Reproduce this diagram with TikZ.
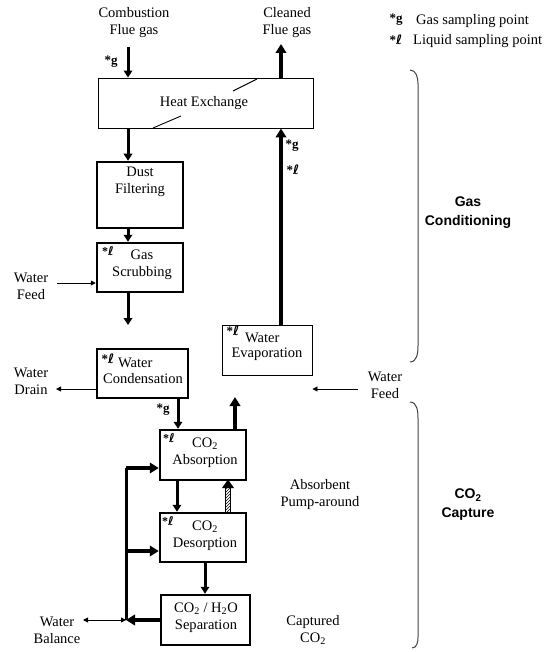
\documentclass[tikz,border=0pt]{standalone}
\usepackage{fontspec}
\setmainfont{Liberation Serif}
\newfontfamily\sansfam{Liberation Sans}
\newfontfamily\ellfam{DejaVu Sans}
\newcommand{\ellmark}{*{\ellfam\bfseries ℓ}}
\usetikzlibrary{arrows.meta,patterns}
\begin{document}
\begin{tikzpicture}[x=1pt,y=-1pt,
  txt/.style={align=center,inner sep=0pt,font=\fontsize{14.5}{17}\selectfont},
  smark/.style={inner sep=0pt,font=\fontsize{12}{14}\selectfont\bfseries},
  bmark/.style={inner sep=0pt,font=\fontsize{13}{15}\selectfont\bfseries},
  thinbox/.style={draw,line width=0.9pt,inner sep=0pt},
  thickbox/.style={draw,line width=2.5pt,inner sep=0pt},
  thinarr/.style={line width=0.9pt,-{Triangle[length=5pt,width=5pt]}},
  midarr/.style={line width=3pt,-{Triangle[length=7pt,width=8.5pt]}},
  bigarr/.style={line width=4.4pt,-{Triangle[length=9pt,width=10.5pt]}},
  brace/.style={line width=1pt,draw=black!75},
  grp/.style={align=center,inner sep=0pt,font=\fontsize{14}{19}\selectfont\sansfam\bfseries}]
\useasboundingbox (0,0) rectangle (552,652);

% ---- boxes ----
\node[thinbox,minimum width=215pt,minimum height=50pt] (he) at (205.5,103) {};
\node[thickbox,minimum width=86pt,minimum height=66pt] (df) at (140,195) {};
\node[thickbox,minimum width=86pt,minimum height=49pt] (gs) at (140,267.5) {};
\node[thickbox,minimum width=91pt,minimum height=49pt] (wc) at (142.5,373.5) {};
\node[thinbox,minimum width=90pt,minimum height=50pt] (we) at (267,350) {};
\node[thickbox,minimum width=86pt,minimum height=50pt] (ab) at (203,455) {};
\node[thickbox,minimum width=86pt,minimum height=49pt] (de) at (203,537.5) {};
\node[thickbox,minimum width=89pt,minimum height=50pt] (se) at (205.5,620) {};

% ---- box texts ----
\node[txt] (het) at (204,103) {Heat Exchange};
\node[txt] (dft) at (140,182) {Dust\\Filtering};
\node[txt] (gst) at (142,265) {Gas\\Scrubbing};
\node[smark] (gsm) at (108,251) {\ellmark};
\node[txt,anchor=west] (wct1) at (118,363) {Water};
\node[bmark] (wcm) at (108,359) {\ellmark};
\node[txt] (wct2) at (143,379) {Condensation};
\node[bmark] (wem) at (233,331) {\ellmark};
\node[txt,anchor=west] (wet1) at (245,338) {Water};
\node[txt] (wet2) at (267,354) {Evaporation};
\node[smark] (abm) at (169,438) {\ellmark};
\node[txt] (abt) at (205,453) {CO\textsubscript{2}\\Absorption};
\node[smark] (dem) at (168,521) {\ellmark};
\node[txt] (det) at (205,536) {CO\textsubscript{2}\\Desorption};
\node[txt] (set) at (206,618) {CO\textsubscript{2} / H\textsubscript{2}O\\Separation};

% ---- free texts ----
\node[txt] (comb) at (134,23) {Combustion\\Flue gas};
\node[txt] (clean) at (287,23) {Cleaned\\Flue gas};
\node[txt] (wf1) at (31,286) {Water\\Feed};
\node[txt] (wd) at (31,381) {Water\\Drain};
\node[txt] (wf2) at (385,385) {Water\\Feed};
\node[txt] (pump) at (320,495) {Absorbent\\Pump-around};
\node[txt] (wb) at (57,630) {Water\\Balance};
\node[txt] (cap) at (313,630) {Captured\\CO\textsubscript{2}};
\node[grp] (gc) at (468,213) {Gas\\Conditioning};
\node[grp] (cc) at (468,505) {CO\textsubscript{2}\\Capture};

% ---- legend ----
\node[bmark] (lg1) at (396,20) {*g};
\node[txt,anchor=west] (lg1t) at (416,21) {Gas sampling point};
\node[bmark] (lg2) at (396,40) {\ellmark};
\node[txt,anchor=west] (lg2t) at (413,41) {Liquid sampling point};

% ---- sampling marks ----
\node[bmark] (m1) at (111,62) {*g};
\node[bmark] (m2) at (292,146) {*g};
\node[bmark] (m3) at (293,170) {\ellmark};
\node[bmark] (m4) at (163,410) {*g};

% ---- coordinates ----
\coordinate (combs) at (128,47);
\coordinate (cleane) at (281,44);
\coordinate (wf1s) at (57,283);
\coordinate (wde) at (56,389);
\coordinate (wf2s) at (358,389);
\coordinate (abup) at (235,397);
\coordinate (gsend) at (128,325);
\coordinate (ltop) at (126,468);
\coordinate (ldes) at (126,551);
\coordinate (lbot) at (126,620);
\coordinate (wbe) at (83,620);
\coordinate (xa) at (128,0);
\coordinate (xb) at (178,0);
\coordinate (xc) at (281,0);
\coordinate (xd) at (177,0);
\coordinate (xe) at (205,0);

% ---- heat exchanger diagonals ----
\draw[line width=0.9pt] (233,91) -- (257,79);
\draw[line width=0.9pt] (153,128) -- (181,116);

% ---- arrows ----
\draw[midarr] (combs) -- (he.north -| combs);
\draw[bigarr] (he.north -| cleane) -- (cleane);
\draw[midarr] (he.south -| xa) -- (df.north -| xa);
\draw[midarr] (df.south -| xa) -- (gs.north -| xa);
\draw[thinarr] (wf1s) -- (gs.west |- wf1s);
\draw[midarr] (gs.south -| xa) -- (gsend);
\draw[thinarr] (wc.west |- wde) -- (wde);
\draw[midarr] (wc.south -| xb) -- (ab.north -| xb);
\draw[bigarr] (we.north -| xc) -- (he.south -| xc);
\draw[thinarr] (wf2s) -- (we.east |- wf2s);
\draw[bigarr] (ab.north -| abup) -- (abup);
\draw[midarr] (ab.south -| xd) -- (de.north -| xd);
% hatched pump-around arrow
\fill[pattern=north east lines] (225.5,513) rectangle (230.5,487);
\draw[line width=0.6pt] (225.5,513) -- (225.5,487) (230.5,513) -- (230.5,487);
\fill (222,488) -- (228,479.5) -- (234,488) -- cycle;
\draw[midarr] (de.south -| xe) -- (se.north -| xe);
% left loop
\draw[line width=3pt] (ltop) -- (lbot);
\draw[bigarr,line width=3.4pt] (ltop) -- (ab.west |- ltop);
\draw[bigarr,line width=3.4pt] (ldes) -- (de.west |- ldes);
\draw[bigarr,line width=3.4pt] (se.west |- lbot) -- (lbot);
\draw[line width=0.9pt,{Triangle[length=5pt,width=5pt]}-{Triangle[length=5pt,width=5pt]}] (wbe) -- (lbot);

% ---- braces ----
\draw[brace] (410,70) to[out=0,in=90] (418,84) -- (418,346) to[out=-90,in=0] (410,362);
\draw[brace] (410,402) to[out=0,in=90] (418,418) -- (418,637) to[out=-90,in=0] (412,648);
\end{tikzpicture}
\end{document}
